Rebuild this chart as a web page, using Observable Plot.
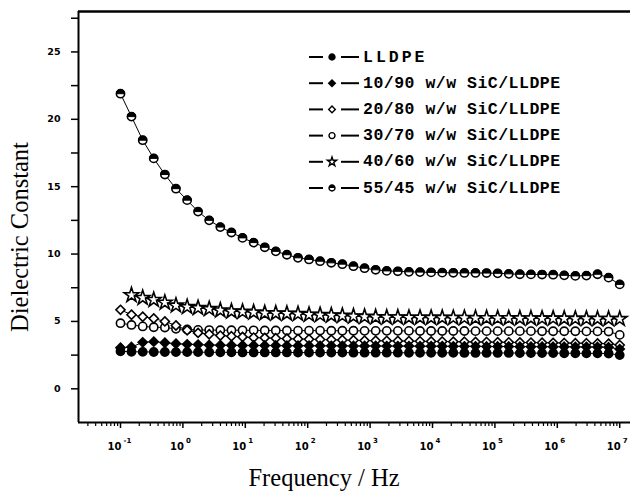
<!DOCTYPE html>
<html><head><meta charset="utf-8">
<script src="https://cdn.jsdelivr.net/npm/d3@7"></script>
<script src="https://cdn.jsdelivr.net/npm/@observablehq/plot@0.6"></script>
<style>body{margin:0;background:#fff}#wrap{width:630px;height:496px}</style>
</head><body><div id="wrap"></div>
<script>
const freqs = [0.1,0.15,0.227,0.341,0.514,0.774,1.17,1.75,2.64,3.98,6.0,9.03,13.6,20.5,30.8,46.4,69.9,105,158,239,359,541,815,1227,1848,2783,4192,6310,9502,14310,21544,32448,48865,73564,110770,166810,251190,378000,570000,857700,1291500,1945000,2929000,4409000,6640000,10000000];
const lldpe = [2.78,2.75,2.74,2.73,2.73,2.72,2.72,2.72,2.71,2.71,2.71,2.7,2.7,2.7,2.7,2.7,2.69,2.69,2.69,2.69,2.69,2.68,2.68,2.68,2.68,2.68,2.67,2.67,2.67,2.67,2.67,2.66,2.66,2.66,2.66,2.66,2.65,2.65,2.65,2.65,2.64,2.64,2.63,2.63,2.62,2.5];
const s10_90 = [3.05,3.1,3.45,3.5,3.42,3.35,3.3,3.28,3.25,3.24,3.23,3.22,3.22,3.21,3.21,3.2,3.2,3.2,3.19,3.19,3.19,3.18,3.18,3.18,3.17,3.17,3.17,3.16,3.16,3.16,3.15,3.15,3.15,3.14,3.14,3.14,3.13,3.13,3.13,3.12,3.12,3.11,3.11,3.1,3.08,2.95];
const s20_80 = [5.86,5.5,5.35,5.22,5.0,4.7,4.35,4.15,4.05,3.95,3.9,3.85,3.8,3.78,3.75,3.72,3.7,3.68,3.66,3.64,3.62,3.6,3.58,3.57,3.56,3.55,3.54,3.53,3.52,3.51,3.5,3.49,3.48,3.47,3.46,3.45,3.44,3.43,3.42,3.41,3.4,3.39,3.38,3.37,3.35,3.25];
const s30_70 = [4.87,4.74,4.63,4.57,4.55,4.45,4.4,4.37,4.36,4.35,4.35,4.34,4.34,4.33,4.33,4.33,4.32,4.32,4.32,4.31,4.31,4.31,4.3,4.3,4.3,4.3,4.3,4.29,4.29,4.29,4.29,4.29,4.28,4.28,4.28,4.28,4.28,4.28,4.27,4.27,4.27,4.27,4.26,4.26,4.25,4.0];
const s40_60 = [null,6.95,6.75,6.6,6.4,6.18,6.07,6.0,5.92,5.82,5.75,5.72,5.67,5.62,5.6,5.58,5.55,5.5,5.48,5.45,5.42,5.38,5.35,5.32,5.3,5.3,5.28,5.28,5.27,5.27,5.26,5.26,5.25,5.25,5.24,5.24,5.23,5.23,5.22,5.22,5.21,5.2,5.2,5.19,5.19,5.18];
const s55_45 = [21.9,20.2,18.45,17.1,15.9,14.85,14.0,13.15,12.5,12.0,11.6,11.2,10.85,10.5,10.2,9.95,9.72,9.6,9.47,9.35,9.25,9.1,8.95,8.83,8.75,8.72,8.68,8.66,8.64,8.62,8.61,8.6,8.6,8.59,8.57,8.53,8.5,8.49,8.48,8.47,8.42,8.38,8.4,8.5,8.25,7.75];
const seriesNames = ["LLDPE","10/90 w/w SiC/LLDPE","20/80 w/w SiC/LLDPE","30/70 w/w SiC/LLDPE","40/60 w/w SiC/LLDPE","55/45 w/w SiC/LLDPE"];
const yMajor = [0,5,10,15,20,25];
const yMinor = [2.5,7.5,12.5,17.5,22.5,27.5];
const xExponents = [-1,0,1,2,3,4,5,6,7];

// custom half-filled circle (top half)
const halfTop = {draw(ctx, size){const r=Math.sqrt(size/Math.PI);ctx.moveTo(-r,0);ctx.arc(0,0,r,Math.PI,2*Math.PI);ctx.closePath();}};

const seriesValues = [lldpe,s10_90,s20_80,s30_70,s40_60,s55_45];
const styles = [
  {symbol:"circle", fill:"black"},
  {symbol:"diamond2", fill:"black"},
  {symbol:"diamond2", fill:"white"},
  {symbol:"circle", fill:"white"},
  {symbol:"star", fill:"white"},
  {symbol:"circle", fill:"white", extra:halfTop}
];
const rows = seriesValues.map((vals,si)=>vals.map((v,i)=>({f:freqs[i], v, s:seriesNames[si]})).filter(d=>d.v!=null));

const xMin = Math.pow(10,-1.673), xMax = Math.pow(10,7.173);
const yMin = -2.5, yMax = 28;
const minorX = [];
for (let e=-2;e<=7;e++) for (let m=1;m<=9;m++){const t=m*Math.pow(10,e); if(t>=xMin&&t<=xMax&&m!==1) minorX.push(t);}
const majorX = xExponents.map(e=>Math.pow(10,e));

const marks = [];
rows.forEach((data,si)=>{
  marks.push(Plot.line(data,{x:"f",y:"v",stroke:"black",strokeWidth:1}));
});
rows.slice().reverse().forEach((data,ri)=>{
  const si = rows.length-1-ri;
  const st = styles[si];
  marks.push(Plot.dot(data,{x:"f",y:"v",symbol:st.symbol,r:si===4?4.6:4.1,fill:st.fill,stroke:"black",strokeWidth:1.6}));
  if (st.extra) marks.push(Plot.dot(data,{x:"f",y:"v",symbol:st.extra,r:4.1,fill:"black",stroke:"black",strokeWidth:1}));
});

const tickFont = {fontFamily:"DejaVu Sans", fontWeight:"bold", fontSize:9.5};
marks.push(
  Plot.axisY({ticks:yMajor, tickSize:7, tickPadding:11, strokeWidth:1.5, tickFormat:d=>String(d), label:null, ...tickFont}),
  Plot.axisY({ticks:yMinor, tickSize:7, strokeWidth:1.5, tickFormat:()=>"", label:null}),
  Plot.axisX({ticks:majorX, tickSize:6, strokeWidth:1.5, tickFormat:()=>"", label:null}),
  Plot.axisX({ticks:minorX, tickSize:4, strokeWidth:1.2, tickFormat:()=>"", label:null}),
  Plot.ruleX([xMin],{stroke:"black",strokeWidth:2}),
  Plot.ruleY([yMin],{stroke:"black",strokeWidth:2}),
  Plot.ruleY([yMax],{stroke:"black",strokeWidth:2.5}),
  Plot.text(xExponents,{x:e=>Math.pow(10,e), y:yMin, text:()=>"10", dy:24, dx:-6, ...tickFont, fontSize:10}),
  Plot.text(xExponents,{x:e=>Math.pow(10,e), y:yMin, text:e=>String(e), dy:18, dx:3, textAnchor:"start", ...tickFont, fontSize:7})
);

const plot = Plot.plot({
  width:630, height:496,
  marginLeft:78, marginTop:11, marginBottom:74, marginRight:0,
  x:{type:"log", domain:[xMin,xMax], axis:null},
  y:{domain:[yMin,yMax], axis:null},
  style:{background:"white", color:"black", overflow:"visible"},
  marks
});

const svg = d3.select(plot);
svg.append("text").attr("x",22).attr("y",237).attr("transform","rotate(-90,22,237)")
  .attr("text-anchor","middle").attr("dominant-baseline","middle")
  .style("font-family","'Liberation Serif'").style("font-size","24.5px").text("Dielectric Constant");
svg.append("text").attr("x",324).attr("y",486)
  .attr("text-anchor","middle")
  .style("font-family","'Liberation Serif'").style("font-size","24.5px").text("Frequency / Hz");

// legend
const lg = svg.append("g").attr("text-anchor","start");
const legendSymbols = [d3.symbolCircle,d3.symbolDiamond2,d3.symbolDiamond2,d3.symbolCircle,d3.symbolStar,d3.symbolCircle];
seriesNames.forEach((name,i)=>{
  const y = 57 + i*26.2;
  const g = lg.append("g").attr("transform",`translate(0,${y})`);
  g.append("line").attr("x1",309).attr("x2",323).attr("y1",0).attr("y2",0).attr("stroke","black").attr("stroke-width",2);
  g.append("line").attr("x1",341).attr("x2",359).attr("y1",0).attr("y2",0).attr("stroke","black").attr("stroke-width",2);
  const sz = i===4?26:28;
  g.append("path").attr("transform","translate(332,0)").attr("d",d3.symbol(legendSymbols[i],sz)())
    .attr("fill",styles[i].fill).attr("stroke","black").attr("stroke-width",1.4);
  if (i===5) g.append("path").attr("transform","translate(332,0)").attr("d",d3.symbol(halfTop,sz)()).attr("fill","black");
  g.append("text").attr("x",363).attr("y",0).attr("dominant-baseline","central").attr("text-anchor","start")
    .style("font-family","'Liberation Mono'").style("font-weight","bold").style("font-size","16.5px")
    .style("letter-spacing", i===0?"3px":"0.5px").text(name);
});

document.getElementById("wrap").appendChild(plot);
</script>
</body></html>
